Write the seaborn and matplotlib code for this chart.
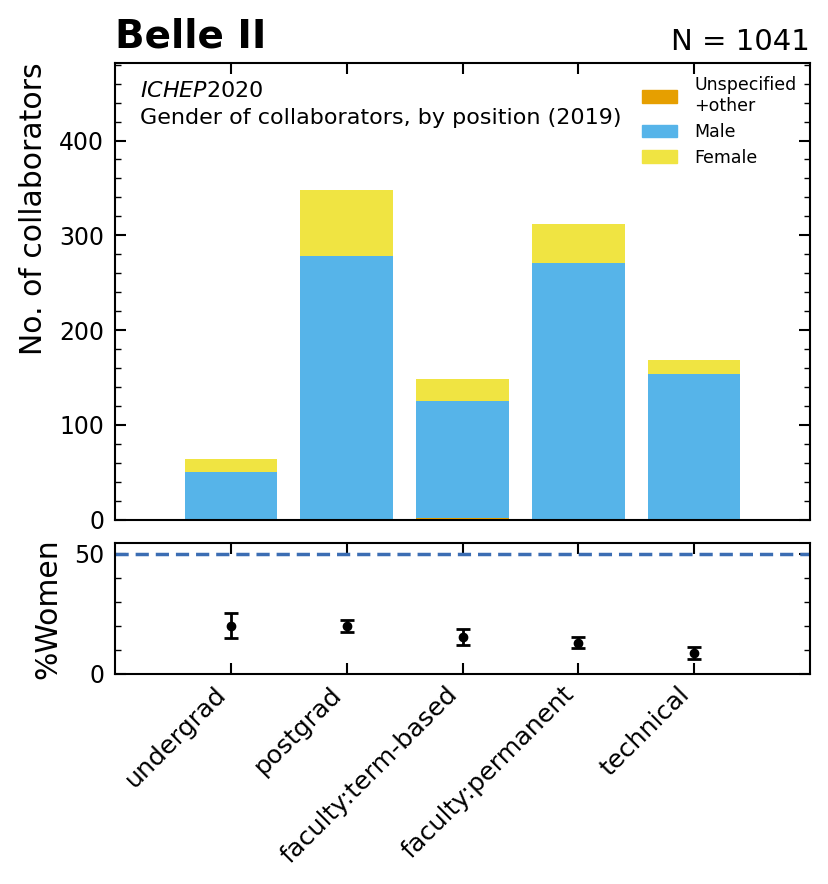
import numpy as np
import pandas as pd
import matplotlib
matplotlib.use("Agg")
import matplotlib.pyplot as plt
import matplotlib.patches as mpatches
from matplotlib.ticker import MultipleLocator
import seaborn as sns

# ---------------------------------------------------------------------------
# Data
# ---------------------------------------------------------------------------
positions = ["undergrad", "postgrad", "faculty:term-based", "faculty:permanent", "technical"]
n_unspecified = [0, 0, 2, 0, 0]
n_male = [50, 278, 123, 271, 154]
n_female = [14, 70, 23, 41, 15]
pct_women = [19.9, 19.7, 15.3, 12.9, 8.5]
pct_err = [5.2, 2.5, 3.3, 2.3, 2.5]
n_total_label = "N = 1041"

col_unspec = "#E69F00"
col_male = "#56B4E9"
col_female = "#F0E442"

sns.set_style("ticks")
plt.rcParams["font.family"] = ["DejaVu Sans"]
plt.rcParams.update({
    "text.color": "black",
    "axes.labelcolor": "black",
    "axes.edgecolor": "black",
    "xtick.color": "black",
    "ytick.color": "black",
})

df = pd.DataFrame({
    "position": positions,
    "unspec": n_unspecified,
    "male": n_male,
    "female": n_female,
})
df["lvl_unspec"] = df["unspec"]
df["lvl_male"] = df["unspec"] + df["male"]
df["lvl_female"] = df["lvl_male"] + df["female"]

fig = plt.figure(figsize=(8.29, 8.84), dpi=100)
ax = fig.add_axes([0.139, 0.412, 0.838, 0.517])
ax2 = fig.add_axes([0.139, 0.238, 0.838, 0.148], sharex=ax)

# stacked bars: draw cumulative heights from top layer down
for lvl, col in [("lvl_female", col_female), ("lvl_male", col_male), ("lvl_unspec", col_unspec)]:
    sns.barplot(data=df, x="position", y=lvl, color=col, saturation=1,
                width=0.8, linewidth=0, ax=ax, order=positions)

ax.set_xlim(-1, 5)
ax.set_ylim(0, 482)
ax.yaxis.set_major_locator(MultipleLocator(100))
ax.yaxis.set_minor_locator(MultipleLocator(20))
ax.set_xlabel("")
ax.set_ylabel("No. of collaborators", fontsize=21.5, labelpad=8, loc="top")
ax.tick_params(axis="both", which="both", direction="in", top=True, right=True)
ax.tick_params(axis="both", which="major", length=8, width=1.5, labelsize=17, pad=8)
ax.tick_params(axis="y", which="minor", length=4, width=1)
ax.tick_params(axis="x", labelbottom=False)
for sp in ax.spines.values():
    sp.set_linewidth(1.5)
    sp.set_visible(True)

ax.text(0.0, 1.015, "Belle II", transform=ax.transAxes, fontsize=28,
        fontweight="bold", ha="left", va="bottom")
ax.text(1.0, 1.015, n_total_label, transform=ax.transAxes, fontsize=21,
        ha="right", va="bottom")
ax.text(0.035, 0.96, r"$\mathit{ICHEP}$2020", transform=ax.transAxes,
        fontsize=16, ha="left", va="top")
ax.text(0.035, 0.9, "Gender of collaborators, by position (2019)",
        transform=ax.transAxes, fontsize=16, ha="left", va="top")

handles = [
    mpatches.Patch(color=col_unspec, label="Unspecified\n+other"),
    mpatches.Patch(color=col_male, label="Male"),
    mpatches.Patch(color=col_female, label="Female"),
]
ax.legend(handles=handles, loc="upper right", frameon=False, fontsize=12.5,
          handlelength=2.0, handleheight=0.7, labelspacing=0.45,
          handletextpad=1.0, bbox_to_anchor=(1.003, 1.005))

# lower panel: percentage of women
x_pos = np.arange(len(positions))
ax2.axhline(50, color="#3b6db3", linestyle="--", linewidth=2.5, dashes=(3.8, 2))
ax2.errorbar(x_pos, pct_women, yerr=pct_err, fmt="o", color="black",
             markersize=6, capsize=5, elinewidth=2, capthick=2)
ax2.set_ylim(0, 54.5)
ax2.yaxis.set_major_locator(MultipleLocator(50))
ax2.yaxis.set_minor_locator(MultipleLocator(10))
ax2.set_ylabel("%Women", fontsize=21.5, labelpad=8)
ax2.set_xticks(x_pos)
ax2.set_xticklabels(positions, rotation=45, ha="right")
ax2.tick_params(axis="both", which="both", direction="in", top=True, right=True)
ax2.tick_params(axis="both", which="major", length=8, width=1.5, labelsize=17, pad=8)
ax2.tick_params(axis="x", labelsize=18.3, pad=6)
ax2.tick_params(axis="y", which="minor", length=4, width=1)
for sp in ax2.spines.values():
    sp.set_linewidth(1.5)
    sp.set_visible(True)

fig.savefig("out.png", dpi=100)
